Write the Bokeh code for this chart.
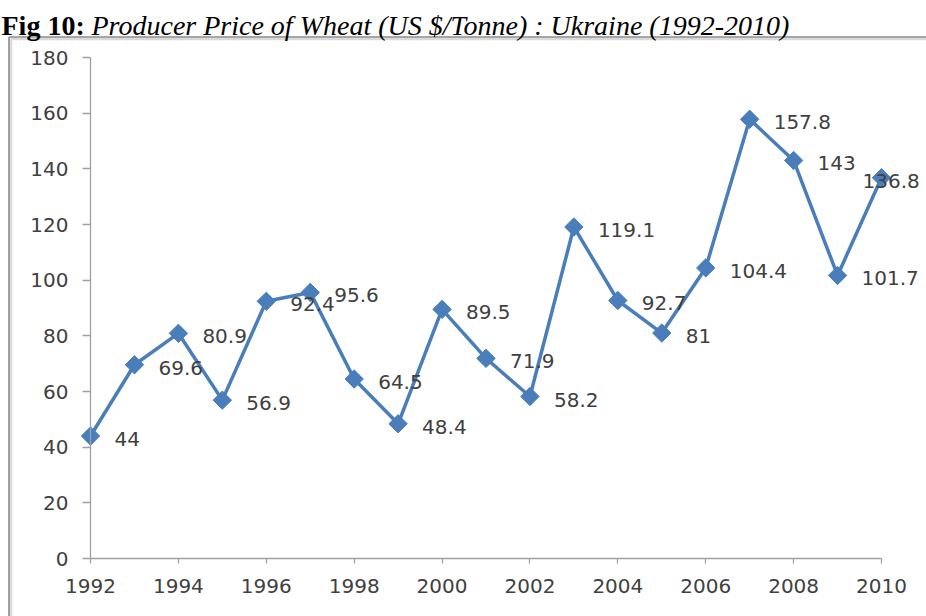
from bokeh.plotting import figure
from bokeh.models import (Range1d, FixedTicker, ColumnDataSource, LabelSet, Label,
                          LinearAxis)
from bokeh.core.properties import value
from bokeh.embed import file_html
from bokeh.resources import INLINE

# ---- data ----
years = [1992, 1993, 1994, 1995, 1996, 1997, 1998, 1999, 2000, 2001,
         2002, 2003, 2004, 2005, 2006, 2007, 2008, 2009, 2010]
prices = [44, 69.6, 80.9, 56.9, 92.4, 95.6, 64.5, 48.4, 89.5, 71.9,
          58.2, 119.1, 92.7, 81, 104.4, 157.8, 143, 101.7, 136.8]
x_ticks = [1992, 1994, 1996, 1998, 2000, 2002, 2004, 2006, 2008, 2010]
y_ticks = [0, 20, 40, 60, 80, 100, 120, 140, 160, 180]
title_bold = "Fig 10:"
title_rest = "Producer Price of Wheat (US $/Tonne) : Ukraine (1992-2010)"

# ---- layout constants (canvas pixels) ----
W, H = 926, 616
FL, FR, FT, FB = 90, 881, 57, 558      # where 1992 / 2010 / 180 / 0 fall
X0, X1 = years[0], years[-1]
Y0, Y1 = y_ticks[0], y_ticks[-1]
PX_X = (FR - FL) / (X1 - X0)
PX_Y = (FB - FT) / (Y1 - Y0)


def xd(cx):
    return X0 + (cx - FL) / PX_X


def yd(cy):
    return Y1 - (cy - FT) / PX_Y


BLUE = "#4a7ebb"
TXT = "#404040"
AX = "#a0a0a0"

p = figure(width=W, height=H,
           x_range=Range1d(xd(0), xd(W)), y_range=Range1d(yd(H), yd(0)),
           output_backend="svg", toolbar_location=None,
           x_axis_location=None, y_axis_location=None,
           min_border=0)
p.xgrid.visible = False
p.ygrid.visible = False
p.outline_line_color = None
p.background_fill_color = "white"
p.border_fill_color = "white"

# chart-area border (left + top edges) with a soft shadow
BX, BY = 8.5, 36.5
p.segment(x0=[xd(BX + 2), xd(BX + 2)], y0=[yd(BY + 2), yd(BY + 2)],
          x1=[xd(BX + 2), xd(W + 5)], y1=[yd(H + 5), yd(BY + 2)],
          line_color="#dadada", line_width=2.5)
p.segment(x0=[xd(BX), xd(BX)], y0=[yd(BY), yd(BY)],
          x1=[xd(BX), xd(W + 5)], y1=[yd(H + 5), yd(BY)],
          line_color="#8a8a8a", line_width=1.6)

xaxis = LinearAxis(fixed_location=Y0, bounds=(X0, X1), ticker=FixedTicker(ticks=x_ticks))
yaxis = LinearAxis(fixed_location=X0, bounds=(Y0, Y1), ticker=FixedTicker(ticks=y_ticks))
for ax in (xaxis, yaxis):
    ax.axis_line_color = AX
    ax.axis_line_width = 1.3
    ax.major_tick_line_color = AX
    ax.major_tick_line_width = 1.3
    ax.minor_tick_line_color = None
    ax.major_tick_in = 0
    ax.major_label_text_font = "DejaVu Sans"
    ax.major_label_text_font_size = "20px"
    ax.major_label_text_color = TXT
xaxis.major_tick_out = 5
xaxis.major_label_standoff = 15
yaxis.major_tick_out = 8
yaxis.major_label_standoff = 14
p.add_layout(xaxis, "below")
p.add_layout(yaxis, "left")

src = ColumnDataSource(dict(
    x=years, y=prices,
    label=[f"{v:g}" for v in prices],
    dx=[24 if i < len(years) - 1 else -19 for i in range(len(years))],
    dy=[-3] * len(years),
))

p.line("x", "y", source=src, line_color=BLUE, line_width=3.5)
p.scatter("x", "y", source=src, marker="square", size=13, angle=0.785398,
          fill_color=BLUE, line_color=BLUE)

p.add_layout(LabelSet(x="x", y="y", text="label", source=src,
                      x_offset="dx", y_offset="dy",
                      text_font=value("DejaVu Sans"), text_font_size="20px",
                      text_color=TXT, text_align="left", text_baseline="middle"))

# title
p.add_layout(Label(x=xd(1), y=yd(25), text=title_bold,
                   text_font="Liberation Serif", text_font_style="bold",
                   text_font_size="28px", text_color="black",
                   text_align="left", text_baseline="alphabetic"))
p.add_layout(Label(x=xd(91), y=yd(25), text=title_rest,
                   text_font="Liberation Serif", text_font_style="italic",
                   text_font_size="28px", text_color="black",
                   text_align="left", text_baseline="alphabetic"))

open("out.html", "w").write(file_html(p, INLINE))
